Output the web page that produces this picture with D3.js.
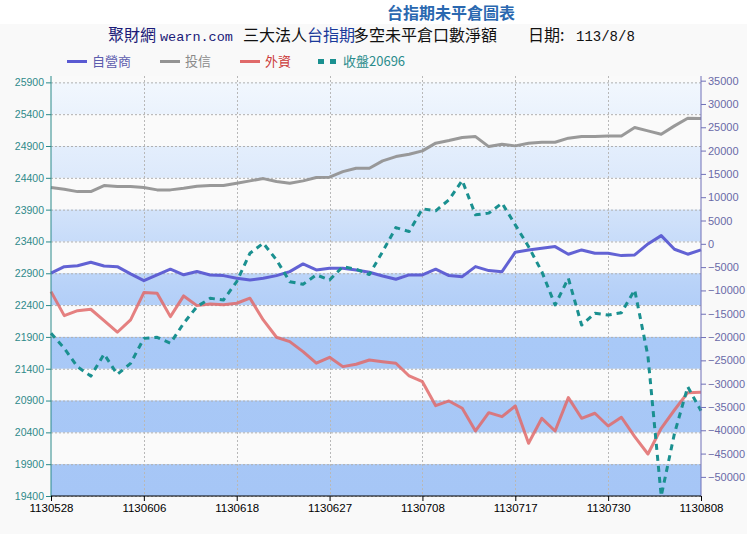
<!DOCTYPE html>
<html><head><meta charset="utf-8">
<script src="https://cdn.jsdelivr.net/npm/d3@7/dist/d3.min.js"></script>
<style>
body{margin:0;background:#fff;}
svg{display:block;}
</style></head>
<body>
<svg id="c" width="747" height="534"></svg>
<script>
const dates = ["1130528","1130529","1130530","1130531","1130603","1130604","1130605","1130606","1130607","1130611",
"1130612","1130613","1130614","1130617","1130618","1130619","1130620","1130621","1130624","1130625",
"1130626","1130627","1130628","1130701","1130702","1130703","1130704","1130705","1130708","1130709",
"1130710","1130711","1130712","1130715","1130716","1130717","1130718","1130719","1130722","1130723",
"1130726","1130729","1130730","1130731","1130801","1130802","1130805","1130806","1130807","1130808"];
const xTickLabels = ["1130528","1130606","1130618","1130627","1130708","1130717","1130730","1130808"];
const dealer = [-6300,-4900,-4700,-3950,-4750,-4900,-6450,-7900,-6650,-5450,-6650,-5950,-6700,-6820,-7380,-7750,-7380,-6820,-5970,-4310,
-5600,-5240,-5240,-5600,-6100,-6890,-7600,-6670,-6670,-5450,-6820,-7040,-4890,-5750,-5970,-1800,-1310,-940,-600,-2230,
-1310,-2020,-2020,-2530,-2380,-20,1760,-1160,-2230,-1310];
const trust = [12060,11720,11200,11200,12490,12280,12280,12060,11570,11570,11930,12360,12490,12490,13000,13500,13990,13350,13000,13500,
14210,14290,15490,16220,16220,17790,18710,19230,19940,21590,22150,22790,23000,20860,21370,21010,21590,21800,21800,22660,
23000,23000,23150,23150,24940,24230,23520,25300,26950,26870];
const foreign = [-10260,-15410,-14340,-14040,-16480,-18970,-16330,-10470,-10600,-15620,-11180,-13260,-12900,-13050,-12750,-11670,-16330,-20040,-20990,-23130,
-25620,-24340,-26350,-25840,-24920,-25280,-25620,-28350,-29570,-34720,-33710,-35280,-40150,-36220,-37080,-34790,-42790,-37430,-40150,-33000,
-37430,-36350,-39080,-37210,-41380,-45090,-39570,-35650,-31930,-31850];
const closeIdx = [21956,21720,21430,21284,21630,21311,21484,21877,21893,21799,22114,22375,22507,22480,22768,23215,23373,23110,22768,22727,
22874,22795,23004,22964,22880,23241,23618,23555,23913,23881,24054,24358,23818,23845,24002,23661,23319,22926,22402,22822,
22087,22271,22244,22280,22638,21600,19400,20382,21116,20740];
const leftTicks = [19400,19900,20400,20900,21400,21900,22400,22900,23400,23900,24400,24900,25400,25900];
const rightTicks = [-50000,-45000,-40000,-35000,-30000,-25000,-20000,-15000,-10000,-5000,0,5000,10000,15000,20000,25000,30000,35000];
const seriesNames = ["自營商","投信","外資","收盤20696"];

const svg = d3.select("#c");
const L=51, R=701, T=76, B=496;
const x = d3.scaleLinear().domain([0, dates.length-1]).range([L, R]);
const yL = d3.scaleLinear().domain([19400, 26000]).range([B, T]);
const yR = d3.scaleLinear().domain([-54100, 36000]).range([B, T]);

svg.append("rect").attr("x",0).attr("y",24).attr("width",747).attr("height",510).attr("fill","#f9f9f9");

const defs = svg.append("defs");
const g = defs.append("linearGradient").attr("id","bg").attr("x1",0).attr("y1",0).attr("x2",0).attr("y2",1);
g.append("stop").attr("offset","0%").attr("stop-color","#f3f8fe");
g.append("stop").attr("offset","25%").attr("stop-color","#dce9fb");
g.append("stop").attr("offset","50%").attr("stop-color","#b8d2f8");
g.append("stop").attr("offset","62%").attr("stop-color","#a9c9f7");
g.append("stop").attr("offset","100%").attr("stop-color","#a6c6f6");
svg.append("rect").attr("x",L).attr("y",T).attr("width",R-L).attr("height",B-T).attr("fill","url(#bg)");

// white bands
leftTicks.forEach((t,i)=>{
  if(i%2===1){
    const top = Math.min(t+500, yL.domain()[1]);
    svg.append("rect").attr("x",L).attr("width",R-L)
      .attr("y",yL(top)).attr("height",yL(t)-yL(top)).attr("fill","#fafafa");
  }
});

// grid
const tickIdx = xTickLabels.map(d=>dates.indexOf(d));
svg.append("g").selectAll("line").data(leftTicks).join("line")
  .attr("x1",L).attr("x2",R).attr("y1",d=>yL(d)+0.5).attr("y2",d=>yL(d)+0.5)
  .attr("stroke","#b0b0b0").attr("stroke-dasharray","2,2");
svg.append("g").selectAll("line").data(tickIdx.slice(1,-1)).join("line")
  .attr("x1",d=>Math.round(x(d))+0.5).attr("x2",d=>Math.round(x(d))+0.5).attr("y1",T).attr("y2",B)
  .attr("stroke","#b8b8b8").attr("stroke-dasharray","2,2");

// lines
function drawLine(data, scale, color, w, dash, op){
  const p = svg.append("path").datum(data)
    .attr("d", d3.line().x((d,i)=>x(i)).y(d=>Math.min(B, scale(d))))
    .attr("fill","none").attr("stroke",color).attr("stroke-width",w)
    .attr("stroke-linejoin","round").attr("opacity",op);
  if(dash) p.attr("stroke-dasharray",dash);
}
drawLine(trust, yR, "#939393", 3, null, 0.95);
drawLine(foreign, yR, "#e06a6a", 3, null, 0.85);
drawLine(dealer, yR, "#5a5ad2", 3, null, 0.95);
drawLine(closeIdx, yL, "#1a9090", 3, "6,5", 1);

// axes
const fontAx = "'Liberation Sans', Arial, sans-serif";
const fmt = d3.format("d");
const ax1 = svg.append("g").attr("transform",`translate(${L},0)`)
  .call(d3.axisLeft(yL).tickValues(leftTicks).tickFormat(fmt).tickSize(5).tickPadding(2));
ax1.select(".domain").attr("stroke","#2a8a8a").attr("d",`M0,${T}V${B}`);
ax1.selectAll(".tick line").attr("stroke","#2a8a8a");
ax1.selectAll(".tick text").attr("fill","#2f8a8a").attr("font-size","10.5px").attr("font-family",fontAx);

const ax2 = svg.append("g").attr("transform",`translate(${R},0)`)
  .call(d3.axisRight(yR).tickValues(rightTicks).tickFormat(fmt).tickSize(5).tickPadding(2));
ax2.select(".domain").attr("stroke","#7070b8").attr("d",`M0,${T}V${B}`);
ax2.selectAll(".tick line").attr("stroke","#7070b8");
ax2.selectAll(".tick text").attr("fill","#6a6aa8").attr("font-size","11px").attr("font-family",fontAx);

const ax3 = svg.append("g").attr("transform",`translate(0,${B})`)
  .call(d3.axisBottom(x).tickValues(tickIdx).tickFormat(i=>dates[i]).tickSize(5).tickPadding(3));
ax3.select(".domain").attr("stroke","#000").attr("d",`M${L},0H${R}`);
ax3.selectAll(".tick line").attr("stroke","#000");
ax3.selectAll(".tick text").attr("fill","#000").attr("font-size","11.5px").attr("font-family",fontAx);

// titles
const cjk = "'Noto Sans CJK TC','Noto Sans CJK SC',sans-serif";
svg.append("text").attr("x",451).attr("y",19).attr("text-anchor","middle")
  .attr("font-family",cjk).attr("font-weight","bold").attr("font-size","16px").attr("fill","#2a68b0")
  .text("台指期未平倉圖表");
const sub = [
  {t:"聚財網",x:108,c:"#1a1a78",f:cjk,s:16},
  {t:"wearn.com",x:160,c:"#1a1a78",f:"'Liberation Mono',monospace",s:13.5},
  {t:"三大法人",x:243,c:"#111",f:cjk,s:16},
  {t:"台指期",x:307,c:"#1a3a9a",f:cjk,s:16},
  {t:"多空未平倉口數淨額",x:353,c:"#111",f:cjk,s:16},
  {t:"日期:",x:528,c:"#111",f:cjk,s:16},
  {t:"113/8/8",x:576,c:"#111",f:"'Liberation Mono',monospace",s:14}
];
sub.forEach(d=>svg.append("text").attr("x",d.x).attr("y",41).attr("font-family",d.f)
  .attr("font-size",d.s+"px").attr("fill",d.c).text(d.t));

// legend
const leg = [
  {n:seriesNames[0],c:"#5a5ad2",tc:"#5c5cae",x:67},
  {n:seriesNames[1],c:"#939393",tc:"#8a8a8a",x:160},
  {n:seriesNames[2],c:"#e06a6a",tc:"#cc3b3b",x:240},
  {n:seriesNames[3],c:"#1a9090",tc:"#2a8c8c",x:318,dash:"6,6"}
];
leg.forEach(d=>{
  const l = svg.append("line").attr("x1",d.x).attr("x2",d.x+20).attr("y1",61.5).attr("y2",61.5)
    .attr("stroke",d.c).attr("stroke-width",d.dash?5:3);
  if(d.dash) l.attr("stroke-dasharray",d.dash);
  svg.append("text").attr("x",d.x+25).attr("y",66).attr("font-family",cjk).attr("font-size","13px")
    .attr("fill",d.tc).text(d.n);
});
</script>
</body></html>
